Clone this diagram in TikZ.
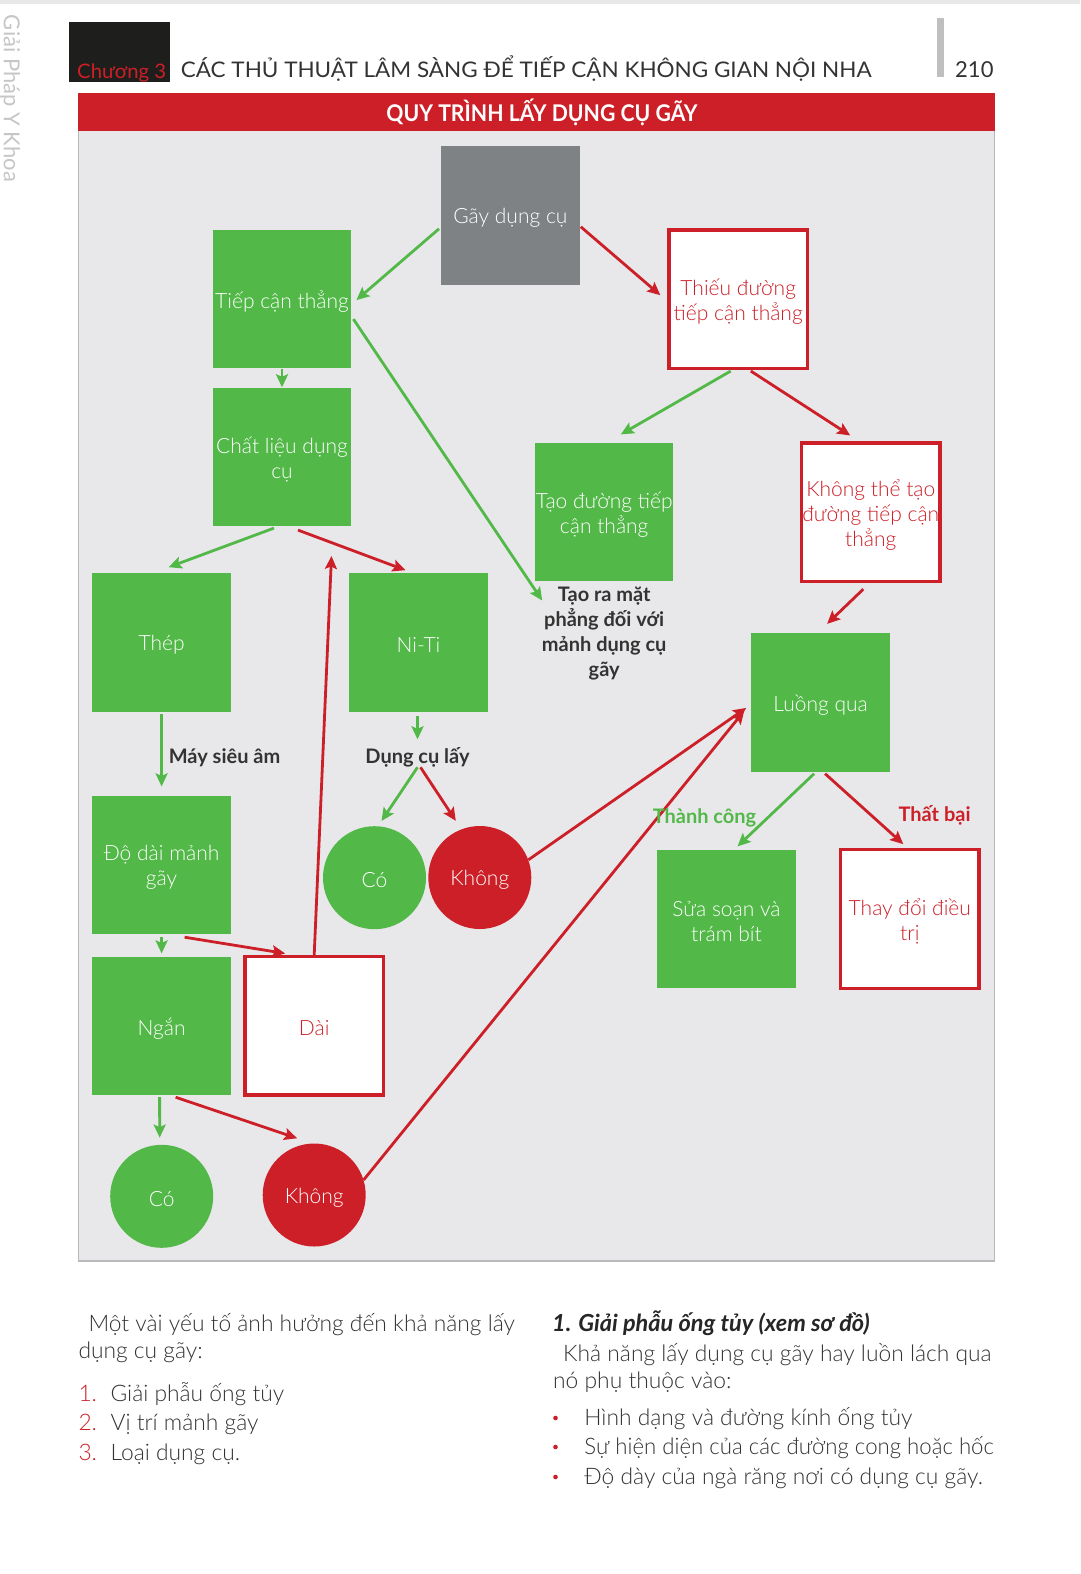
\documentclass[tikz,border=0pt]{standalone}
\usepackage{fontspec}
\usepackage{graphicx}
\setmainfont{Lato}
\newfontfamily\lightf{Lato Light}
\usetikzlibrary{arrows.meta,calc}
\definecolor{grn}{HTML}{52B848}
\definecolor{rd}{HTML}{CC1F27}
\definecolor{gboxc}{HTML}{7F8285}
\definecolor{panel}{HTML}{E8E8EA}
\definecolor{txt}{HTML}{333333}
\definecolor{hdr}{HTML}{1E1E1C}
\begin{document}
\begin{tikzpicture}[x=1pt,y=-1pt,
  boxtext/.style={inner sep=0pt, align=center, font=\lightf\fontsize{21}{25}\selectfont, yshift=-2.5pt},
  tw/.style={label={[boxtext, text=white]center:{#1}}},
  tr/.style={label={[boxtext, text=rd]center:{#1}}},
  boxf/.style={rectangle, minimum width=138.4pt, minimum height=138.4pt, inner sep=0pt},
  gbox/.style={boxf, fill=grn},
  wbox/.style={boxf, fill=white, draw=rd, line width=3.3pt},
  circf/.style={circle, minimum size=103pt, inner sep=0pt},
  lbl/.style={font=\bfseries\fontsize{20}{25}\selectfont, text=txt, align=center, inner sep=0pt},
  tipf/.style={-{Stealth[length=13pt,width=12pt,inset=2.5pt]}},
  ga/.style={draw=grn, line width=2.8pt, tipf},
  ra/.style={draw=rd, line width=2.8pt, tipf},
  body/.style={font=\lightf\fontsize{22.8}{27}\selectfont, text=txt, inner sep=0pt, anchor=base west}]
\useasboundingbox (0,0) rectangle (1080,1574);
\fill[white] (0,0) rectangle (1080,1574);
\fill[gray!18] (0,0) rectangle (1080,3.5);
% watermark
\node[rotate=-90, text=gray!45, inner sep=0pt, font=\fontsize{22}{22}\selectfont] (wm) at (10,98.5) {\resizebox{167pt}{\height}{Giải Pháp Y Khoa}};
% header
\fill[hdr] (69.3,22.1) rectangle (169.6,82.3);
\node[anchor=base west, text=rd, inner sep=0pt, font=\fontsize{20}{20}\selectfont] (chuong) at (77,78) {\resizebox{89pt}{\height}{Chương 3}};
\node[anchor=base west, text=txt, inner sep=0pt, font=\fontsize{21.5}{21.5}\selectfont] (title) at (180.7,77.3) {\resizebox{690.5pt}{\height}{CÁC THỦ THUẬT LÂM SÀNG ĐỂ TIẾP CẬN KHÔNG GIAN NỘI NHA}};
\fill[gray!50] (936.5,18) rectangle (943.5,77);
\node[anchor=base east, text=txt, inner sep=0pt, font=\fontsize{22}{22}\selectfont] (page) at (993.7,77.3) {210};
% panel
\fill[panel] (78.3,130.5) rectangle (994.7,1261);
\draw[gray!55, line width=1.5pt] (78.3,93.3) rectangle (994.7,1261);
\fill[rd] (78.3,93.3) rectangle (994.7,130.5);
\node[text=white, inner sep=0pt, font=\bfseries\fontsize{23}{23}\selectfont] (ttl) at (542,112.4) {\resizebox{311pt}{\height}{QUY TRÌNH LẤY DỤNG CỤ GÃY}};
% nodes
\node[boxf, fill=gboxc, tw={Gãy dụng cụ}] (gay) at (510.4,215.3) {};
\node[gbox, tw={Tiếp cận thẳng}] (tiep) at (282,299.1) {};
\node[gbox, tw={Chất liệu dụng\\cụ}] (chat) at (282,456.7) {};
\node[wbox, tr={Thiếu đường\\tiếp cận thẳng}] (thieu) at (738.2,299.2) {};
\node[gbox, tw={Tạo đường tiếp\\cận thẳng}] (taoduong) at (604.2,511.8) {};
\node[wbox, tr={Không thể tạo\\đường tiếp cận\\thẳng}] (khongthe) at (870.8,512.3) {};
\node[lbl] (taora) at (604.2,633.5) {Tạo ra mặt\\phẳng đối với\\mảnh dụng cụ\\gãy};
\node[gbox, tw={Thép}] (thep) at (161.6,642.6) {};
\node[gbox, tw={Ni-Ti}] (niti) at (418.5,642.6) {};
\node[gbox, tw={Luồng qua}] (luong) at (820.6,702.3) {};
\node[lbl, anchor=west] (msa) at (168.6,757.3) {Máy siêu âm};
\node[lbl] (dcl) at (417.5,757.3) {Dụng cụ lấy};
\node[circf, fill=grn, tw={Có}] (co1) at (374.5,877.7) {};
\node[circf, fill=rd, tw={Không}] (khong1) at (479.8,877.5) {};
\node[gbox, tw={Độ dài mảnh\\gãy}] (dodai) at (161.6,864.8) {};
\node[gbox, tw={Ngắn}] (ngan) at (161.6,1025.8) {};
\node[wbox, tr={Dài}] (dai) at (314.2,1025.8) {};
\node[circf, fill=grn, tw={Có}] (co2) at (161.7,1196.3) {};
\node[circf, fill=rd, tw={Không}] (khong2) at (314.2,1195) {};
\node[gbox, tw={Sửa soạn và\\trám bít}] (sua) at (726.5,918.8) {};
\node[wbox, tr={Thay đổi điều\\trị}] (thay) at (909.8,919) {};
% connectors
\draw[ga] ($(gay.west)+(-2,13.5)$) -- ($(tiep.east)+(5,1)$);
\draw[ra] ($(gay.east)+(1,11.5)$) -- ($(thieu.west)+(-7,-4)$);
\draw[ga] (tiep.south) -- (chat.north);
\draw[ga] ($(tiep.east)+(2,20)$) -- ($(taora.center)+(-62,-33)$);
\draw[ga] ($(thieu.south)+(-7.5,1)$) -- ($(taoduong.north)+(16.6,-8)$);
\draw[ra] ($(thieu.south)+(12.6,1)$) -- ($(khongthe.north)+(-20.6,-6)$);
\draw[ra] ($(khongthe.south)+(-7.5,6)$) -- ($(luong.north)+(6.5,-9)$);
\draw[ga] ($(chat.south)+(-8,2)$) -- ($(thep.north)+(7,-6)$);
\draw[ra] ($(chat.south)+(16,4)$) -- ($(niti.north)+(-13,-3)$);
\draw[ga] ($(thep.south)+(0,2)$) -- ($(dodai.north)+(0,-9)$);
\draw[ga] ($(niti.south)+(-1,4)$) -- ($(dcl.center)+(0,-18)$);
\draw[ga] ($(dcl.center)+(0,10)$) -- ($(co1.north)+(7,-5)$);
\draw[ra] ($(dcl.center)+(3,10)$) -- ($(khong1.north)+(-24,-5)$);
\draw[ra] (khong1.20) -- ($(luong.west)+(-5,5.6)$);
\draw[ga] ($(dodai.south)+(0,3)$) -- ($(ngan.north)+(0,-3)$);
\draw[ra] ($(dodai.south)+(23,3)$) -- ($(dai.north)+(-29,-1.5)$);
\coordinate (up) at (331.5,556);
\draw[ra] (dai.north) -- (up);
\draw[ra] ($(ngan.south)+(14,2)$) -- ($(khong2.north)+(-17,-5)$);
\draw[ga] ($(ngan.south)+(-2,2)$) -- ($(co2.north)+(-2,-7)$);
\draw[ra] (khong2.17) -- ($(luong.west)+(-7,8.6)$);
\draw[ga] ($(luong.south)+(-6.5,2)$) -- ($(sua.north)+(11,-3)$);
\draw[ra] ($(luong.south)+(4.5,2)$) -- ($(thay.north)+(-6.5,-4)$);
\node[lbl, text=grn] (tc) at (704.5,818) {Thành công};
\node[lbl, text=rd] (tb) at (934.6,815.5) {Thất bại};
% bottom text
\node[body] (p1) at (88.3,1331) {Một vài yếu tố ảnh hưởng đến khả năng lấy};
\node[body] (p2) at (78.3,1358) {dụng cụ gãy:};
\node[body, text=rd] (n1) at (78.3,1401) {1.};
\node[body] (l1) at (110.4,1401) {Giải phẫu ống tủy};
\node[body, text=rd] (n2) at (78.3,1430) {2.};
\node[body] (l2) at (110.4,1430) {Vị trí mảnh gãy};
\node[body, text=rd] (n3) at (78.3,1460) {3.};
\node[body] (l3) at (110.4,1460) {Loại dụng cụ.};
\node[body, font=\bfseries\itshape\fontsize{23.5}{27}\selectfont, text=black!85] (h1) at (552,1331) {1. Giải phẫu ống tủy (xem sơ đồ)};
\node[body] (r1) at (563,1361) {Khả năng lấy dụng cụ gãy hay luồn lách qua};
\node[body] (r2) at (553,1388) {nó phụ thuộc vào:};
\fill[rd] (555.5,1418) circle (2.3);
\fill[rd] (555.5,1447) circle (2.3);
\fill[rd] (555.5,1477) circle (2.3);
\node[body] (b1) at (584.2,1425) {Hình dạng và đường kính ống tủy};
\node[body] (b2) at (584.2,1454) {\resizebox{409.5pt}{\height}{Sự hiện diện của các đường cong hoặc hốc}};
\node[body] (b3) at (584.2,1484) {Độ dày của ngà răng nơi có dụng cụ gãy.};
\end{tikzpicture}
\end{document}
